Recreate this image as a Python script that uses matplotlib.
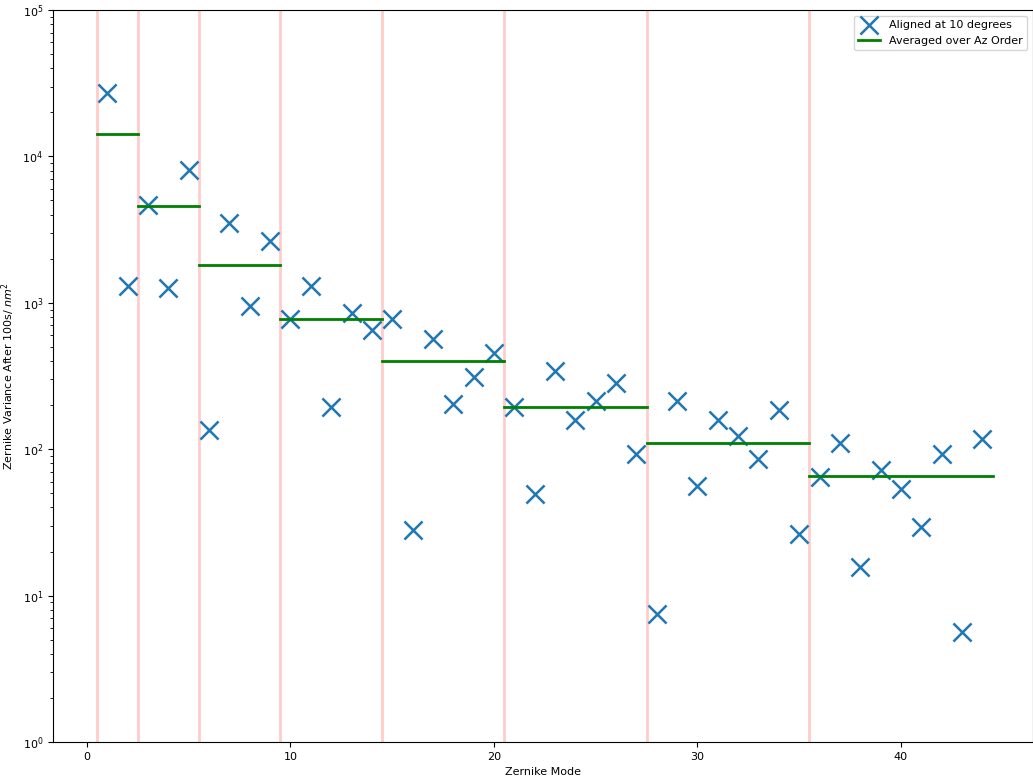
import numpy as np
import matplotlib
matplotlib.use('Agg')
import matplotlib.pyplot as plt

# Zernike modes and their variances
modes = np.arange(1, 45)
variance = [27100, 1300, 4660, 1260, 8080, 135, 3510, 950, 2640, 775,
            1300, 194, 852, 652, 775, 28.0, 566, 204, 311, 454,
            194, 49.4, 342, 158, 213, 283, 92.7, 7.5, 213, 56.1,
            158, 123, 85.7, 185, 26.4, 64.9, 110.8, 15.7, 72.0, 53.2,
            29.6, 92.3, 5.67, 116.9]

# azimuthal order group boundaries and the averaged level in each group
boundaries = [0.5, 2.5, 5.5, 9.5, 14.5, 20.5, 27.5, 35.5, 44.5]
group_avg = [14230, 4605, 1812, 771, 398, 193, 109.7, 65.3]

fig = plt.figure(figsize=(10.33, 7.81), dpi=100)
ax = fig.add_axes([0.0513, 0.0499, 0.9487, 0.9373])

# vertical separators between groups (last edge has no line)
for b in boundaries[:-1]:
    ax.axvline(b, color='red', alpha=0.2, lw=2, zorder=1)

ax.scatter(modes, variance, marker='x', s=170, lw=1.8, color='#1f77b4',
           label='Aligned at 10 degrees', zorder=2)

for i, avg in enumerate(group_avg):
    lo, hi = boundaries[i], boundaries[i + 1]
    ax.plot([lo, hi], [avg, avg], color='green', lw=2, zorder=3,
            label='Averaged over Az Order' if i == 0 else None)

ax.set_yscale('log')
ax.set_ylim(1, 1e5)
ax.set_xlim(-1.67, 46.49)
ax.set_xlabel('Zernike Mode', fontsize=8)
ax.set_ylabel('Zernike Variance After 100s/ $nm^2$', fontsize=8)
ax.tick_params(labelsize=8)
ax.legend(loc='upper right', fontsize=8)

fig.savefig('out.png', dpi=100)
